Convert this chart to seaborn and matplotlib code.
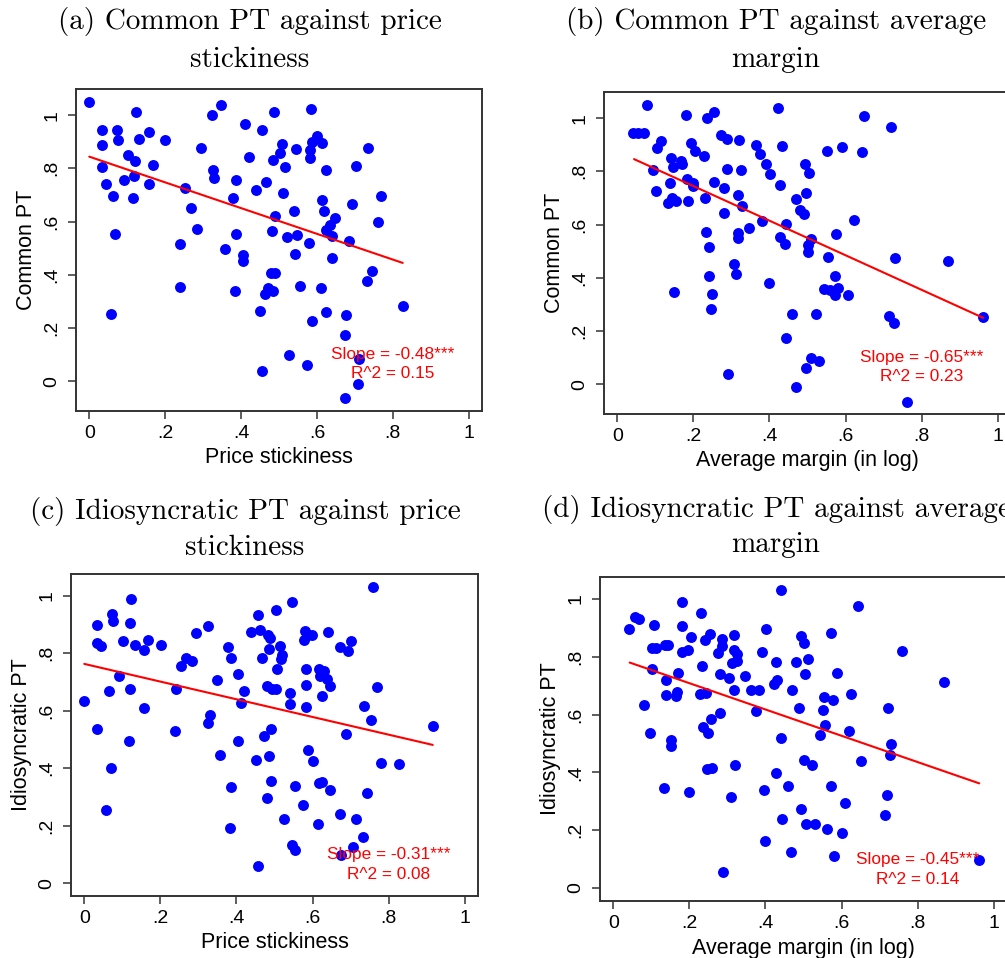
import matplotlib
matplotlib.use('Agg')
import matplotlib.pyplot as plt
import seaborn as sns

# (a) common PT vs price stickiness
a_x = [0.000, 0.123, 0.033, 0.074, 0.033, 0.075, 0.132, 0.157, 0.200, 0.101,
       0.121, 0.167, 0.034, 0.119, 0.092, 0.043, 0.157, 0.063, 0.116, 0.069,
       0.057, 0.324, 0.348, 0.295, 0.325, 0.330, 0.253, 0.267, 0.283, 0.239,
       0.238, 0.410, 0.455, 0.487, 0.421, 0.484, 0.387, 0.439, 0.467, 0.378,
       0.490, 0.481, 0.386, 0.357, 0.404, 0.404, 0.480, 0.490, 0.462, 0.472,
       0.485, 0.383, 0.451, 0.455, 0.509, 0.511, 0.503, 0.585, 0.546, 0.516,
       0.599, 0.586, 0.614, 0.583, 0.583, 0.625, 0.735, 0.703, 0.770, 0.692,
       0.760, 0.540, 0.614, 0.618, 0.647, 0.634, 0.625, 0.639, 0.685, 0.520,
       0.548, 0.579, 0.542, 0.639, 0.744, 0.731, 0.555, 0.612, 0.827, 0.623,
       0.587, 0.677, 0.673, 0.527, 0.575, 0.711, 0.707, 0.673]
a_y = [1.049, 1.012, 0.943, 0.943, 0.888, 0.908, 0.911, 0.936, 0.905, 0.850,
       0.828, 0.813, 0.805, 0.772, 0.757, 0.743, 0.740, 0.698, 0.688, 0.554,
       0.254, 1.001, 1.037, 0.877, 0.792, 0.763, 0.727, 0.653, 0.572, 0.516,
       0.356, 0.965, 0.943, 1.010, 0.842, 0.830, 0.756, 0.719, 0.747, 0.689,
       0.622, 0.565, 0.553, 0.498, 0.474, 0.453, 0.408, 0.408, 0.330, 0.350,
       0.340, 0.339, 0.264, 0.041, 0.891, 0.706, 0.856, 1.024, 0.873, 0.805,
       0.922, 0.900, 0.896, 0.868, 0.839, 0.794, 0.877, 0.808, 0.698, 0.668,
       0.600, 0.641, 0.681, 0.641, 0.612, 0.589, 0.568, 0.547, 0.527, 0.543,
       0.549, 0.520, 0.479, 0.463, 0.415, 0.378, 0.360, 0.349, 0.285, 0.261,
       0.227, 0.251, 0.175, 0.101, 0.061, 0.086, -0.008, -0.064]
a_fit_x = [0.0, 0.826]
a_fit_y = [0.844, 0.445]

# (b) common PT vs average margin
b_x = [0.079, 0.042, 0.055, 0.070, 0.114, 0.104, 0.181, 0.237, 0.254, 0.195,
       0.204, 0.229, 0.273, 0.289, 0.319, 0.364, 0.376, 0.392, 0.402, 0.423,
       0.432, 0.428, 0.493, 0.141, 0.167, 0.147, 0.171, 0.095, 0.139, 0.182,
       0.200, 0.198, 0.102, 0.132, 0.143, 0.153, 0.185, 0.231, 0.255, 0.280,
       0.288, 0.324, 0.317, 0.327, 0.281, 0.234, 0.242, 0.316, 0.316, 0.347,
       0.380, 0.443, 0.429, 0.442, 0.470, 0.481, 0.307, 0.312, 0.241, 0.250,
       0.247, 0.150, 0.400, 0.459, 0.443, 0.290, 0.469, 0.649, 0.720, 0.551,
       0.590, 0.642, 0.503, 0.496, 0.492, 0.623, 0.576, 0.509, 0.502, 0.502,
       0.555, 0.731, 0.869, 0.572, 0.543, 0.559, 0.572, 0.581, 0.607, 0.523,
       0.715, 0.728, 0.962, 0.509, 0.530, 0.495, 0.761]
b_y = [1.048, 0.944, 0.944, 0.944, 0.913, 0.889, 1.011, 1.001, 1.024, 0.906,
       0.878, 0.858, 0.938, 0.923, 0.919, 0.900, 0.864, 0.829, 0.789, 1.038,
       0.894, 0.748, 0.829, 0.851, 0.838, 0.816, 0.826, 0.804, 0.758, 0.771,
       0.758, 0.744, 0.725, 0.681, 0.700, 0.689, 0.690, 0.701, 0.761, 0.739,
       0.808, 0.805, 0.711, 0.669, 0.643, 0.573, 0.516, 0.569, 0.548, 0.588,
       0.613, 0.603, 0.554, 0.526, 0.698, 0.654, 0.454, 0.414, 0.408, 0.341,
       0.285, 0.348, 0.379, 0.263, 0.175, 0.041, -0.008, 1.008, 0.965, 0.876,
       0.891, 0.871, 0.795, 0.720, 0.641, 0.619, 0.566, 0.545, 0.523, 0.498,
       0.479, 0.474, 0.463, 0.408, 0.358, 0.354, 0.335, 0.363, 0.335, 0.265,
       0.256, 0.229, 0.254, 0.101, 0.089, 0.060, -0.065]
b_fit_x = [0.044, 0.962]
b_fit_y = [0.846, 0.250]

# (c) idiosyncratic PT vs price stickiness
c_x = [0.000, 0.122, 0.074, 0.076, 0.034, 0.120, 0.033, 0.044, 0.102, 0.134,
       0.157, 0.168, 0.201, 0.092, 0.065, 0.121, 0.157, 0.034, 0.117, 0.069,
       0.058, 0.240, 0.238, 0.254, 0.267, 0.284, 0.294, 0.326, 0.348, 0.331,
       0.324, 0.378, 0.386, 0.404, 0.420, 0.411, 0.404, 0.357, 0.386, 0.384,
       0.456, 0.438, 0.463, 0.483, 0.489, 0.485, 0.466, 0.504, 0.507, 0.479,
       0.493, 0.505, 0.492, 0.472, 0.486, 0.451, 0.490, 0.479, 0.456, 0.760,
       0.546, 0.581, 0.587, 0.598, 0.577, 0.640, 0.673, 0.693, 0.702, 0.514,
       0.520, 0.517, 0.584, 0.616, 0.630, 0.619, 0.638, 0.647, 0.584, 0.625,
       0.770, 0.542, 0.542, 0.583, 0.736, 0.755, 0.687, 0.916, 0.587, 0.602,
       0.779, 0.827, 0.553, 0.616, 0.625, 0.645, 0.744, 0.574, 0.525, 0.614,
       0.672, 0.713, 0.732, 0.547, 0.554, 0.707, 0.676]
c_y = [0.633, 0.990, 0.938, 0.911, 0.897, 0.906, 0.836, 0.824, 0.843, 0.830,
       0.812, 0.845, 0.828, 0.722, 0.670, 0.677, 0.608, 0.536, 0.494, 0.399,
       0.253, 0.676, 0.529, 0.755, 0.784, 0.772, 0.870, 0.896, 0.708, 0.584,
       0.557, 0.821, 0.782, 0.729, 0.669, 0.627, 0.495, 0.446, 0.333, 0.193,
       0.934, 0.874, 0.882, 0.862, 0.853, 0.816, 0.782, 0.950, 0.745, 0.685,
       0.674, 0.674, 0.535, 0.512, 0.444, 0.427, 0.356, 0.295, 0.060, 1.032,
       0.977, 0.876, 0.865, 0.862, 0.847, 0.875, 0.822, 0.809, 0.844, 0.826,
       0.795, 0.780, 0.745, 0.745, 0.737, 0.722, 0.711, 0.685, 0.688, 0.653,
       0.684, 0.662, 0.625, 0.613, 0.616, 0.566, 0.520, 0.546, 0.463, 0.426,
       0.418, 0.416, 0.338, 0.350, 0.353, 0.325, 0.315, 0.272, 0.223, 0.205,
       0.240, 0.223, 0.162, 0.133, 0.115, 0.127, 0.098]
c_fit_x = [0.0, 0.916]
c_fit_y = [0.763, 0.481]

# (d) idiosyncratic PT vs average margin
d_x = [0.041, 0.056, 0.067, 0.107, 0.180, 0.231, 0.181, 0.205, 0.240, 0.254,
       0.287, 0.287, 0.274, 0.316, 0.316, 0.326, 0.311, 0.326, 0.402, 0.391,
       0.427, 0.442, 0.480, 0.103, 0.113, 0.136, 0.145, 0.181, 0.197, 0.101,
       0.138, 0.170, 0.232, 0.281, 0.305, 0.347, 0.139, 0.164, 0.168, 0.227,
       0.243, 0.316, 0.363, 0.382, 0.423, 0.431, 0.469, 0.080, 0.376, 0.489,
       0.280, 0.256, 0.237, 0.249, 0.096, 0.151, 0.151, 0.442, 0.502, 0.245,
       0.260, 0.319, 0.427, 0.132, 0.200, 0.310, 0.395, 0.460, 0.494, 0.443,
       0.506, 0.400, 0.467, 0.289, 0.642, 0.493, 0.502, 0.571, 0.760, 0.511,
       0.503, 0.589, 0.870, 0.554, 0.577, 0.624, 0.552, 0.721, 0.557, 0.544,
       0.620, 0.731, 0.728, 0.650, 0.522, 0.573, 0.610, 0.719, 0.714, 0.531,
       0.562, 0.601, 0.581, 0.962]
d_y = [0.895, 0.939, 0.931, 0.911, 0.988, 0.950, 0.905, 0.869, 0.858, 0.878,
       0.861, 0.838, 0.814, 0.875, 0.824, 0.809, 0.780, 0.784, 0.895, 0.815,
       0.781, 1.031, 0.781, 0.832, 0.829, 0.841, 0.841, 0.817, 0.825, 0.756,
       0.720, 0.744, 0.769, 0.742, 0.728, 0.733, 0.667, 0.666, 0.678, 0.671,
       0.674, 0.685, 0.686, 0.685, 0.705, 0.719, 0.684, 0.632, 0.612, 0.624,
       0.605, 0.586, 0.557, 0.535, 0.535, 0.512, 0.493, 0.519, 0.444, 0.413,
       0.416, 0.425, 0.398, 0.346, 0.332, 0.314, 0.338, 0.352, 0.272, 0.238,
       0.222, 0.161, 0.125, 0.057, 0.975, 0.873, 0.846, 0.882, 0.821, 0.794,
       0.740, 0.745, 0.711, 0.661, 0.650, 0.670, 0.615, 0.624, 0.564, 0.528,
       0.543, 0.497, 0.459, 0.441, 0.425, 0.354, 0.294, 0.323, 0.251, 0.221,
       0.205, 0.192, 0.112, 0.096]
d_fit_x = [0.043, 0.962]
d_fit_y = [0.780, 0.362]

tick_vals = [0, 0.2, 0.4, 0.6, 0.8, 1]
tick_labels = ['0', '.2', '.4', '.6', '.8', '1']

sns.set_theme(style='ticks')
plt.rcParams['font.family'] = ['Liberation Sans', 'DejaVu Sans']

W, H = 1005, 958
fig = plt.figure(figsize=(W / 100, H / 100), dpi=100)
frame_col = '#333333'


def add_panel(box, xs, ys, fit_x, fit_y, ylim, xlabel, ylabel, slope_txt, r2_txt):
    left, top, right, bottom = box
    ax = fig.add_axes([left / W, 1 - bottom / H, (right - left) / W, (bottom - top) / H])
    sns.scatterplot(x=xs, y=ys, color='#0000ff', s=62, linewidth=0, ax=ax, zorder=2)
    sns.lineplot(x=fit_x, y=fit_y, color='#ff0000', linewidth=1.5, ax=ax, zorder=3)
    ax.set_xlim(-0.035, 1.035)
    ax.set_ylim(*ylim)
    ax.set_xticks(tick_vals, tick_labels)
    ax.set_yticks(tick_vals, tick_labels)
    ax.tick_params(direction='out', length=6, width=1.1, color=frame_col,
                   labelsize=14, labelcolor='black')
    ax.tick_params(axis='x', pad=4)
    ax.tick_params(axis='y', pad=5)
    for lab in ax.get_yticklabels():
        lab.set_rotation(90)
        lab.set_va('center')
    for sp in ax.spines.values():
        sp.set_color(frame_col)
        sp.set_linewidth(1.4)
    ax.set_xlabel(xlabel, fontsize=15.5, color='black')
    ax.set_ylabel(ylabel, fontsize=15.5, color='black')
    ax.xaxis.set_label_coords(0.5, -0.113)
    ax.yaxis.set_label_coords(-0.122, 0.5)
    ax.yaxis.label.set_va('center')
    ax.text(0.8, 0.1, slope_txt, color='#ff0000', fontsize=12.4, ha='center', va='center', zorder=4)
    ax.text(0.8, 0.03, r2_txt, color='#ff0000', fontsize=12.4, ha='center', va='center', zorder=4)
    ax.grid(False)
    return ax


add_panel((76, 89, 482, 411), a_x, a_y, a_fit_x, a_fit_y, (-0.111, 1.098),
          'Price stickiness', 'Common PT', 'Slope = -0.48***', 'R^2 = 0.15')
add_panel((604, 92, 1011, 414), b_x, b_y, b_fit_x, b_fit_y, (-0.111, 1.098),
          'Average margin (in log)', 'Common PT', 'Slope = -0.65***', 'R^2 = 0.23')
add_panel((71, 574, 478, 896), c_x, c_y, c_fit_x, c_fit_y, (-0.045, 1.076),
          'Price stickiness', 'Idiosyncratic PT', 'Slope = -0.31***', 'R^2 = 0.08')
add_panel((600, 577, 1007, 901), d_x, d_y, d_fit_x, d_fit_y, (-0.045, 1.076),
          'Average margin (in log)', 'Idiosyncratic PT', 'Slope = -0.45***', 'R^2 = 0.14')

titles = [
    (250, 22, '(a) Common PT against price'), (250, 60, 'stickiness'),
    (776, 22, '(b) Common PT against average'), (776, 60, 'margin'),
    (245, 511, '(c) Idiosyncratic PT against price'), (245, 548, 'stickiness'),
    (776, 510, '(d) Idiosyncratic PT against average'), (776, 545, 'margin'),
]
for tx, ty, txt in titles:
    fig.text(tx / W, 1 - ty / H, txt, ha='center', va='center',
             fontfamily='cmr10', fontsize=21, color='black')

fig.savefig('out.png', dpi=100, facecolor='white')
